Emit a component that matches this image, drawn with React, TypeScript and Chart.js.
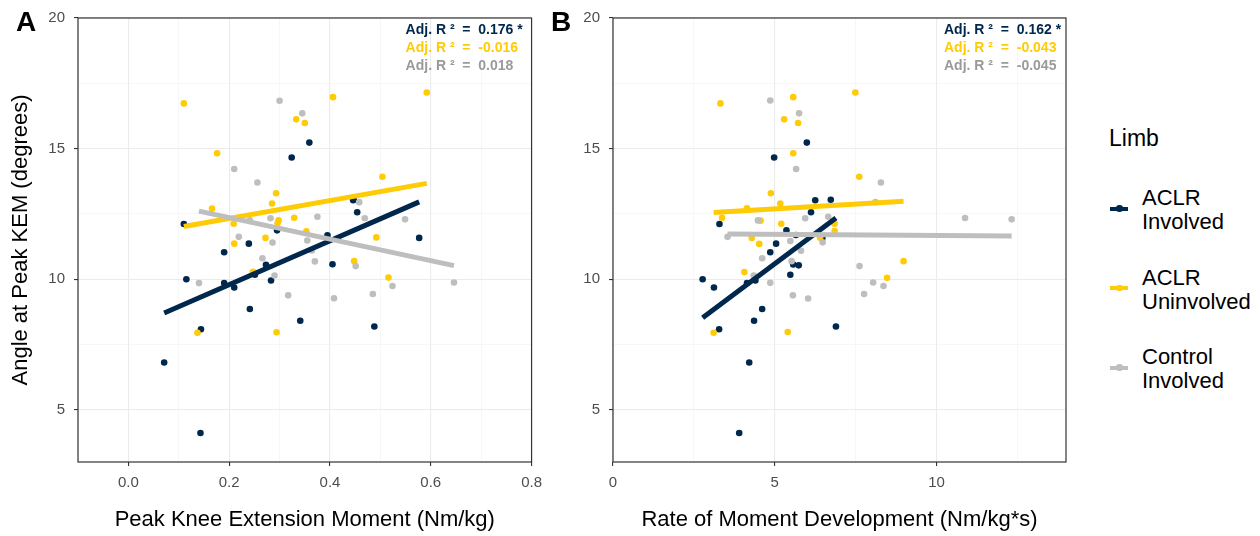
import React, { useEffect, useRef } from "react";
import { Chart, registerables } from "chart.js";
Chart.register(...registerables);

const FONT = '"Liberation Sans", Arial, Helvetica, sans-serif';
const NAVY = "#00274C";
const MAIZE = "#FFCB05";
const GREY = "#BEBEBE";
const GREY_TEXT = "#9A9A9A";

const groupNames = ["ACLR\nInvolved", "ACLR\nUninvolved", "Control\nInvolved"];
const groupColors = [NAVY, MAIZE, GREY];
const annotColors = [NAVY, MAIZE, GREY_TEXT];

// ---------- Panel A: Peak Knee Extension Moment ----------
const kemNavyX = [0.359, 0.324, 0.446, 0.447, 0.454, 0.11, 0.295, 0.395, 0.577, 0.239, 0.19, 0.273, 0.405, 0.251, 0.115, 0.19, 0.21, 0.283, 0.241, 0.341, 0.488, 0.144, 0.071, 0.143];
const kemNavyY = [15.23, 14.66, 13.02, 13.04, 12.56, 12.11, 11.87, 11.68, 11.58, 11.36, 11.03, 10.55, 10.57, 10.17, 10.0, 9.85, 9.68, 9.95, 8.86, 8.41, 8.19, 8.08, 6.81, 4.11];
const kemMaizeX = [0.11, 0.333, 0.35, 0.406, 0.592, 0.176, 0.504, 0.293, 0.285, 0.329, 0.298, 0.296, 0.166, 0.209, 0.272, 0.353, 0.492, 0.21, 0.448, 0.247, 0.516, 0.137, 0.294];
const kemMaizeY = [16.73, 16.12, 15.98, 16.97, 17.15, 14.82, 13.92, 13.29, 12.9, 12.35, 12.25, 12.14, 12.7, 12.12, 11.58, 11.83, 11.6, 11.36, 10.69, 10.28, 10.06, 7.95, 7.97];
const kemGreyX = [0.3, 0.345, 0.21, 0.256, 0.458, 0.469, 0.549, 0.375, 0.282, 0.241, 0.219, 0.355, 0.286, 0.266, 0.364, 0.37, 0.451, 0.29, 0.14, 0.524, 0.646, 0.317, 0.408, 0.485];
const kemGreyY = [16.83, 16.35, 14.22, 13.7, 12.95, 12.33, 12.29, 12.39, 12.33, 12.25, 11.62, 11.48, 11.4, 10.8, 11.1, 10.68, 10.5, 10.14, 9.85, 9.74, 9.87, 9.38, 9.27, 9.43];
const kemR2 = ["0.176 *", "-0.016", "0.018"];
const kemXMajor = [0.0, 0.2, 0.4, 0.6, 0.8];
const kemXMinor = [-0.1, 0.1, 0.3, 0.5, 0.7];

// ---------- Panel B: Rate of Moment Development ----------
const rmdNavyX = [5.99, 4.98, 6.25, 6.73, 6.12, 3.29, 5.36, 5.65, 6.47, 5.04, 4.86, 5.57, 5.74, 5.48, 2.77, 3.12, 4.14, 4.4, 4.61, 4.36, 6.89, 3.28, 4.21, 3.9];
const rmdNavyY = [15.23, 14.66, 13.02, 13.04, 12.56, 12.11, 11.87, 11.69, 11.58, 11.36, 11.03, 10.56, 10.53, 10.17, 10.0, 9.68, 9.85, 9.95, 8.86, 8.41, 8.19, 8.08, 6.81, 4.11];
const rmdMaizeX = [3.32, 5.57, 5.29, 5.72, 7.49, 5.57, 7.61, 4.88, 5.17, 4.14, 3.37, 4.56, 5.2, 6.85, 6.85, 4.29, 4.52, 6.4, 8.98, 4.06, 8.47, 3.11, 5.4];
const rmdMaizeY = [16.73, 16.97, 16.12, 15.98, 17.15, 14.82, 13.92, 13.29, 12.9, 12.71, 12.35, 12.24, 12.12, 12.12, 11.84, 11.58, 11.35, 11.59, 10.69, 10.27, 10.05, 7.95, 7.98];
const rmdGreyX = [4.86, 5.75, 5.66, 8.28, 8.11, 4.48, 5.94, 6.65, 10.88, 12.32, 3.54, 5.48, 6.48, 5.81, 4.61, 5.52, 7.62, 4.35, 4.86, 8.04, 8.36, 5.56, 6.03, 7.76];
const rmdGreyY = [16.84, 16.35, 14.22, 13.7, 12.95, 12.25, 12.33, 12.39, 12.34, 12.29, 11.62, 11.46, 11.41, 11.09, 10.8, 10.69, 10.5, 10.14, 9.86, 9.87, 9.74, 9.38, 9.26, 9.43];
const rmdR2 = ["0.162 *", "-0.043", "-0.045"];
const rmdXMajor = [0, 5, 10];
const rmdXMinor = [2.5, 7.5, 12.5];

// ---------- shared y axis ----------
const yMajor = [5, 10, 15, 20];
const yMinor = [7.5, 12.5, 17.5];

type Pt = { x: number; y: number };
const zip = (xs: number[], ys: number[]): Pt[] => xs.map((x, i) => ({ x, y: ys[i] }));

function lmFit(xs: number[], ys: number[]): Pt[] {
  const n = xs.length;
  const mx = xs.reduce((a, b) => a + b, 0) / n;
  const my = ys.reduce((a, b) => a + b, 0) / n;
  let sxx = 0, sxy = 0;
  for (let i = 0; i < n; i++) {
    sxx += (xs[i] - mx) ** 2;
    sxy += (xs[i] - mx) * (ys[i] - my);
  }
  const b = sxy / sxx;
  const a = my - b * mx;
  const lo = Math.min(...xs), hi = Math.max(...xs);
  return [{ x: lo, y: a + b * lo }, { x: hi, y: a + b * hi }];
}

const isIn = (arr: number[], v: number) => arr.some((m) => Math.abs(m - v) < 1e-9);

type PanelSpec = {
  xMin: number; xMax: number;
  xMajor: number[]; xMinor: number[];
  xFmt: (v: number) => string;
  xTitle: string; yTitle: string | null;
  series: [number[], number[]][];
  r2: string[];
  yAxisWidth: number; padRight: number; width: number; annotOffset: number;
};

function makeConfig(p: PanelSpec): any {
  const lineSets = p.series.map(([xs, ys], i) => ({
    type: "line",
    data: lmFit(xs, ys),
    borderColor: groupColors[i],
    borderWidth: 5,
    borderCapStyle: "butt",
    pointRadius: 0,
    fill: false,
    showLine: true,
    order: 3 - i,
  }));
  const pointSets = p.series.map(([xs, ys], i) => ({
    type: "scatter",
    data: zip(xs, ys),
    backgroundColor: groupColors[i],
    borderWidth: 0,
    pointRadius: 3.3,
    order: 10 - i,
  }));

  const decor = {
    id: "decor",
    afterDraw(chart: any) {
      const { ctx, chartArea } = chart;
      ctx.save();
      ctx.strokeStyle = "#333333";
      ctx.lineWidth = 1.2;
      ctx.strokeRect(chartArea.left, chartArea.top, chartArea.right - chartArea.left, chartArea.bottom - chartArea.top);
      ctx.font = `bold 14px ${FONT}`;
      ctx.textAlign = "left";
      ctx.textBaseline = "middle";
      p.r2.forEach((t, i) => {
        ctx.fillStyle = annotColors[i];
        ctx.fillText(`Adj. R \u00B2  =  ${t}`, chartArea.right - p.annotOffset, 30 + 18 * i);
      });
      ctx.restore();
    },
  };

  const gridOpts = (major: number[]) => ({
    color: (c: any) => (c.tick && isIn(major, c.tick.value) ? "#EBEBEB" : "#F2F2F2"),
    lineWidth: (c: any) => (c.tick && isIn(major, c.tick.value) ? 1.1 : 0.6),
    tickColor: (c: any) => (c.tick && isIn(major, c.tick.value) ? "#333333" : "rgba(0,0,0,0)"),
    tickLength: 4,
    drawTicks: true,
  });

  return {
    type: "scatter",
    data: { datasets: [...lineSets, ...pointSets] },
    options: {
      animation: false,
      responsive: false,
      maintainAspectRatio: false,
      events: [],
      layout: { padding: { left: 0, right: p.padRight, top: 17, bottom: 0 } },
      plugins: { legend: { display: false }, tooltip: { enabled: false }, title: { display: false } },
      scales: {
        x: {
          type: "linear",
          position: "bottom",
          min: p.xMin,
          max: p.xMax,
          afterBuildTicks: (s: any) => {
            s.ticks = [...p.xMinor, ...p.xMajor].sort((a, b) => a - b).map((v) => ({ value: v }));
          },
          afterFit: (s: any) => { s.height = 74; },
          ticks: {
            autoSkip: false,
            maxRotation: 0,
            padding: 8,
            color: "#4D4D4D",
            font: { family: FONT, size: 15 },
            callback: (v: number) => (isIn(p.xMajor, v) ? p.xFmt(v) : ""),
          },
          grid: gridOpts(p.xMajor),
          border: { display: false },
          title: {
            display: true,
            text: p.xTitle,
            color: "#000000",
            font: { family: FONT, size: 22 },
            padding: { top: 0, bottom: 3 },
          },
        },
        y: {
          type: "linear",
          position: "left",
          min: 3,
          max: 20,
          afterBuildTicks: (s: any) => {
            s.ticks = [...yMinor, ...yMajor].sort((a, b) => a - b).map((v) => ({ value: v }));
          },
          afterFit: (s: any) => { s.width = p.yAxisWidth; },
          ticks: {
            autoSkip: false,
            padding: 9,
            color: "#4D4D4D",
            font: { family: FONT, size: 15 },
            callback: (v: number) => (isIn(yMajor, v) ? String(v) : ""),
          },
          grid: gridOpts(yMajor),
          border: { display: false },
          title: {
            display: !!p.yTitle,
            text: p.yTitle || "",
            color: "#000000",
            font: { family: FONT, size: 22 },
            padding: { top: 8, bottom: 0 },
          },
        },
      },
    },
    plugins: [decor],
  };
}

const panelA: PanelSpec = {
  xMin: -0.1, xMax: 0.8,
  xMajor: kemXMajor, xMinor: kemXMinor,
  xFmt: (v) => v.toFixed(1),
  xTitle: "Peak Knee Extension Moment (Nm/kg)",
  yTitle: "Angle at Peak KEM (degrees)",
  series: [[kemNavyX, kemNavyY], [kemMaizeX, kemMaizeY], [kemGreyX, kemGreyY]],
  r2: kemR2,
  yAxisWidth: 78, padRight: 9, width: 550, annotOffset: 126,
};

const panelB: PanelSpec = {
  xMin: 0, xMax: 14,
  xMajor: rmdXMajor, xMinor: rmdXMinor,
  xFmt: (v) => String(v),
  xTitle: "Rate of Moment Development (Nm/kg*s)",
  yTitle: null,
  series: [[rmdNavyX, rmdNavyY], [rmdMaizeX, rmdMaizeY], [rmdGreyX, rmdGreyY]],
  r2: rmdR2,
  yAxisWidth: 68, padRight: 24, width: 545, annotOffset: 122,
};

function Panel({ spec, left }: { spec: PanelSpec; left: number }) {
  const ref = useRef<HTMLCanvasElement | null>(null);
  useEffect(() => {
    if (!ref.current) return;
    const chart = new Chart(ref.current, makeConfig(spec));
    return () => chart.destroy();
  }, [spec]);
  return (
    <canvas
      ref={ref}
      width={spec.width}
      height={536}
      style={{ position: "absolute", left, top: 0, width: spec.width, height: 536 }}
    />
  );
}

export default function App() {
  return (
    <div
      style={{
        position: "fixed",
        left: 0,
        top: 0,
        width: 1260,
        height: 536,
        background: "#ffffff",
        fontFamily: FONT,
        overflow: "hidden",
      }}
    >
      <Panel spec={panelA} left={0} />
      <Panel spec={panelB} left={545} />
      <div style={{ position: "absolute", left: 16, top: 8, font: `bold 28px ${FONT}`, lineHeight: "28px", color: "#000" }}>A</div>
      <div style={{ position: "absolute", left: 551, top: 8, font: `bold 28px ${FONT}`, lineHeight: "28px", color: "#000" }}>B</div>
      <div style={{ position: "absolute", left: 1109, top: 126, fontSize: 23, lineHeight: "24px", color: "#000" }}>Limb</div>
      {groupNames.map((name, i) => (
        <div key={name} style={{ position: "absolute", left: 1108, top: 186 + 79.5 * i, height: 48 }}>
          <div style={{ position: "absolute", left: 2, top: 20.5, width: 18, height: 4, background: groupColors[i] }} />
          <div
            style={{
              position: "absolute",
              left: 8,
              top: 19.3,
              width: 6.6,
              height: 6.6,
              borderRadius: "50%",
              background: groupColors[i],
            }}
          />
          <div style={{ position: "absolute", left: 34, top: 0, fontSize: 22, lineHeight: "24px", color: "#000", whiteSpace: "pre" }}>
            {name}
          </div>
        </div>
      ))}
    </div>
  );
}
